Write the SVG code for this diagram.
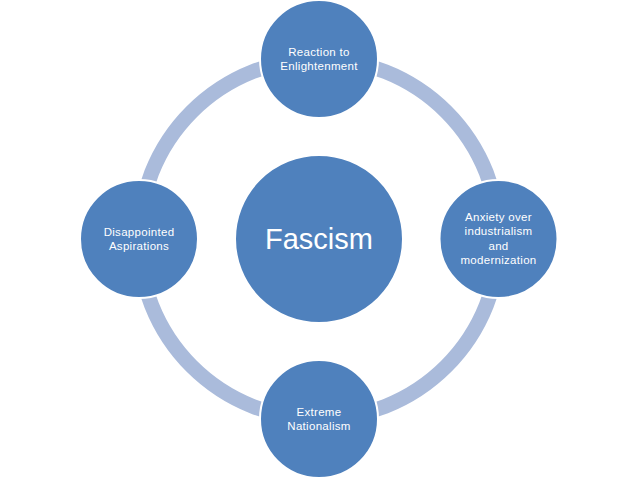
<svg xmlns="http://www.w3.org/2000/svg" width="638" height="479" viewBox="0 0 638 479">
<style>
.node{fill:#4F81BD;stroke:#FFFFFF;stroke-width:2}
.t{font-family:"Liberation Sans",Arial,sans-serif;font-size:11.5px;fill:#FFFFFF;text-anchor:middle;letter-spacing:0.3px}
.big{font-family:"Liberation Sans",Arial,sans-serif;font-size:29px;fill:#FFFFFF;text-anchor:middle}
</style>
<rect width="638" height="479" fill="#FFFFFF"/>
<g id="connectors">
<circle cx="319" cy="239" r="180" fill="none" stroke="#AABBDB" stroke-width="15"/>
</g>
<g id="center">
<circle class="node" cx="319" cy="239" r="84"/>
<text class="big" x="319" y="249">Fascism</text>
</g>
<g id="top">
<circle class="node" cx="319" cy="59" r="59"/>
<text class="t" x="319" y="56">Reaction to</text>
<text class="t" x="319" y="69.5">Enlightenment</text>
</g>
<g id="right">
<circle class="node" cx="498.5" cy="239" r="59"/>
<text class="t" x="498.5" y="221">Anxiety over</text>
<text class="t" x="498.5" y="235">industrialism</text>
<text class="t" x="498.5" y="250">and</text>
<text class="t" x="498.5" y="264">modernization</text>
</g>
<g id="bottom">
<circle class="node" cx="319" cy="419" r="59"/>
<text class="t" x="319" y="416">Extreme</text>
<text class="t" x="319" y="430">Nationalism</text>
</g>
<g id="left">
<circle class="node" cx="139" cy="239" r="59"/>
<text class="t" x="139" y="236">Disappointed</text>
<text class="t" x="139" y="249.5">Aspirations</text>
</g>
</svg>
